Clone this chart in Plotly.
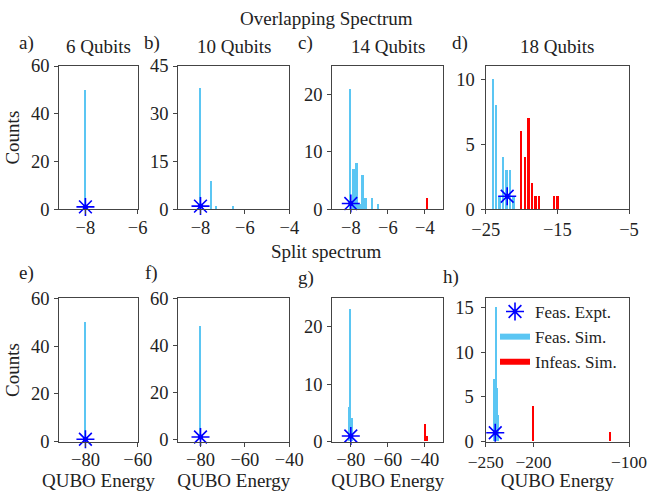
import plotly.graph_objects as go

# ---------------- data ----------------
a_feas_x = [-8.0]
a_feas_y = [50]
b_feas_x = [-8.0, -7.5, -7.27, -6.5]
b_feas_y = [38, 9, 1, 1]
c_feas_x = [-8.0, -7.83, -7.67, -7.5, -7.33, -7.17, -6.83, -6.5]
c_feas_y = [21, 7, 8, 1, 6, 2, 2, 1]
c_infeas_x = [-3.85]
c_infeas_y = [2]
d_feas_x = [-24.0, -23.55, -23.1, -22.6, -22.1, -21.6, -21.15]
d_feas_y = [10, 8, 1, 4, 3, 3, 1]
d_infeas_x = [-20.05, -19.55, -19.05, -18.55, -18.05, -17.55, -15.5, -15.0]
d_infeas_y = [6, 4, 7, 2, 1, 1, 1, 1]
e_feas_x = [-80.0]
e_feas_y = [50]
f_feas_x = [-80.0]
f_feas_y = [48]
g_feas_x = [-80.5, -80.0, -79.3]
g_feas_y = [6, 23, 4]
g_infeas_x = [-39.5, -38.8]
g_infeas_y = [3, 1]
h_feas_x = [-241.0, -239.5, -238.5, -237.0]
h_feas_y = [7, 15, 6, 3]
h_infeas_x = [-201.0, -200.2, -120.0]
h_infeas_y = [2, 4, 1]

expt_x = [-8, -8, -8, -22, -80, -80, -80, -240]
expt_y = [1, 1, 1, 1, 1, 1, 1, 1]

titles = ["6 Qubits", "10 Qubits", "14 Qubits", "18 Qubits"]
letters = ["a)", "b)", "c)", "d)", "e)", "f)", "g)", "h)"]

x_ranges = [[-9, -6], [-9, -4], [-9, -3], [-25, -5],
            [-90, -60], [-90, -40], [-90, -30], [-250, -100]]
x_ticks = [[-8, -6], [-8, -6, -4], [-8, -6, -4], [-25, -15, -5],
           [-80, -60], [-80, -60, -40], [-80, -60, -40], [-250, -200, -100]]
y_ranges = [[0, 60], [0, 45], [0, 25], [0, 11],
            [0, 60], [-1, 60], [0, 25], [0, 16]]
y_ticks = [[0, 20, 40, 60], [0, 15, 30, 45], [0, 10, 20], [0, 5, 10],
           [0, 20, 40, 60], [0, 20, 40, 60], [0, 10, 20], [0, 5, 10, 15]]

feas = [(a_feas_x, a_feas_y), (b_feas_x, b_feas_y), (c_feas_x, c_feas_y), (d_feas_x, d_feas_y),
        (e_feas_x, e_feas_y), (f_feas_x, f_feas_y), (g_feas_x, g_feas_y), (h_feas_x, h_feas_y)]
infeas = [None, None, (c_infeas_x, c_infeas_y), (d_infeas_x, d_infeas_y),
          None, None, (g_infeas_x, g_infeas_y), (h_infeas_x, h_infeas_y)]

# ---------------- style ----------------
W, H = 652, 491
BLUE = "#5BC6F3"
RED = "#FF0000"
STAR = "#0000FF"
FONT = "Liberation Serif, DejaVu Serif, serif"
TICKSIZE = 18.5
TXT = 19

bar_w = [0.07, 0.08, 0.1, 0.26, 0.6, 0.7, 0.9, 1.4]
x_lab_standoff = [-3, -3, -3, -1, -3, -3, -3, 0]
y_lab_standoff = [1, 1, 1, 2, 1, 1, 1, 3]
x_tick_size = [TICKSIZE] * 7 + [17.5]

col_px = [(59.3, 137.7), (178.3, 289.3), (332.3, 443.3), (485.7, 629.0)]
row_px = [(66.0, 209.3), (298.3, 441.7)]

def px2x(p):
    return p / W

def px2y(p):
    return 1 - p / H

fig = go.Figure()
layout = dict(
    width=W, height=H, margin=dict(l=0, r=0, t=0, b=0, autoexpand=False),
    paper_bgcolor="white", plot_bgcolor="white",
    font=dict(family=FONT, size=TXT, color="#222"),
    showlegend=True, bargap=0, barmode="overlay",
)

for i in range(8):
    r, c = divmod(i, 4)
    xa = "x" if i == 0 else f"x{i+1}"
    ya = "y" if i == 0 else f"y{i+1}"
    xk = "xaxis" if i == 0 else f"xaxis{i+1}"
    yk = "yaxis" if i == 0 else f"yaxis{i+1}"
    x0, x1 = col_px[c]
    yt, yb = row_px[r]
    layout[xk] = dict(
        domain=[px2x(x0), px2x(x1)], anchor=ya, range=x_ranges[i], automargin=False,
        tickvals=x_ticks[i], ticktext=[("\u2212" + str(abs(v))) if v < 0 else str(v) for v in x_ticks[i]],
        ticks="outside", ticklen=4, tickwidth=1, tickcolor="#444",
        ticklabelstandoff=x_lab_standoff[i],
        showline=True, linecolor="#444", linewidth=1.3, mirror=True,
        showgrid=False, zeroline=False,
        tickfont=dict(family=FONT, size=x_tick_size[i], color="#222"),
    )
    layout[yk] = dict(
        domain=[px2y(yb), px2y(yt)], anchor=xa, range=y_ranges[i], automargin=False,
        tickvals=y_ticks[i], ticks="outside", ticklen=4, tickwidth=1, tickcolor="#444",
        ticklabelstandoff=y_lab_standoff[i],
        showline=True, linecolor="#444", linewidth=1.3, mirror=True,
        showgrid=False, zeroline=False,
        tickfont=dict(family=FONT, size=TICKSIZE, color="#222"),
    )
    if c == 0:
        layout[yk]["title"] = dict(text="Counts", font=dict(family=FONT, size=TXT), standoff=6)
    if r == 1:
        layout[xk]["title"] = dict(text="QUBO Energy", font=dict(family=FONT, size=TXT),
                                   standoff=4 - x_lab_standoff[i] - 3)

    fx, fy = feas[i]
    fig.add_trace(go.Bar(x=fx, y=fy, width=bar_w[i], marker=dict(color=BLUE, line=dict(width=0)),
                         xaxis=xa, yaxis=ya, showlegend=False, name="Feas. Sim."))
    if infeas[i] is not None:
        ix, iy = infeas[i]
        fig.add_trace(go.Bar(x=ix, y=iy, width=bar_w[i], marker=dict(color=RED, line=dict(width=0)),
                             xaxis=xa, yaxis=ya, showlegend=False, name="Infeas. Sim."))
    fig.add_trace(go.Scatter(x=[expt_x[i]], y=[expt_y[i]], mode="markers",
                             marker=dict(symbol="asterisk-open", size=15, color=STAR,
                                         line=dict(color=STAR, width=1.6)),
                             xaxis=xa, yaxis=ya, showlegend=(i == 7), name="Feas. Expt.", cliponaxis=False))
    fig.add_trace(go.Scatter(x=[expt_x[i]], y=[expt_y[i]], mode="markers",
                             marker=dict(symbol="circle", size=5, color=STAR),
                             xaxis=xa, yaxis=ya, showlegend=False, cliponaxis=False))

# legend-only entries for the simulation histograms
fig.add_trace(go.Scatter(x=[None], y=[None], mode="lines", line=dict(color=BLUE, width=6),
                         xaxis="x8", yaxis="y8", name="Feas. Sim."))
fig.add_trace(go.Scatter(x=[None], y=[None], mode="lines", line=dict(color=RED, width=6),
                         xaxis="x8", yaxis="y8", name="Infeas. Sim."))

layout["legend"] = dict(x=px2x(495), y=px2y(294), xanchor="left", yanchor="top",
                        bgcolor="rgba(255,255,255,0)", font=dict(family=FONT, size=17),
                        itemwidth=30, tracegroupgap=0)

ann = []
ann.append(dict(text="Overlapping Spectrum", x=px2x(326.5), y=px2y(18), xref="paper", yref="paper",
                showarrow=False, xanchor="center", yanchor="middle", font=dict(size=TXT)))
ann.append(dict(text="Split spectrum", x=px2x(326), y=px2y(251), xref="paper", yref="paper",
                showarrow=False, xanchor="center", yanchor="middle", font=dict(size=TXT)))
for c in range(4):
    x0, x1 = col_px[c]
    ann.append(dict(text=titles[c], x=px2x((x0 + x1) / 2), y=px2y(46), xref="paper", yref="paper",
                    showarrow=False, xanchor="center", yanchor="middle", font=dict(size=TXT)))
letter_pos = [(27, 43), (152, 43), (305, 43), (460, 43), (27, 273), (151, 273), (306, 278), (451, 277)]
for t, (lx, ly) in zip(letters, letter_pos):
    ann.append(dict(text=t, x=px2x(lx), y=px2y(ly), xref="paper", yref="paper",
                    showarrow=False, xanchor="center", yanchor="middle", font=dict(size=TXT)))
layout["annotations"] = ann

fig.update_layout(**layout)
fig.write_html("out.html")
